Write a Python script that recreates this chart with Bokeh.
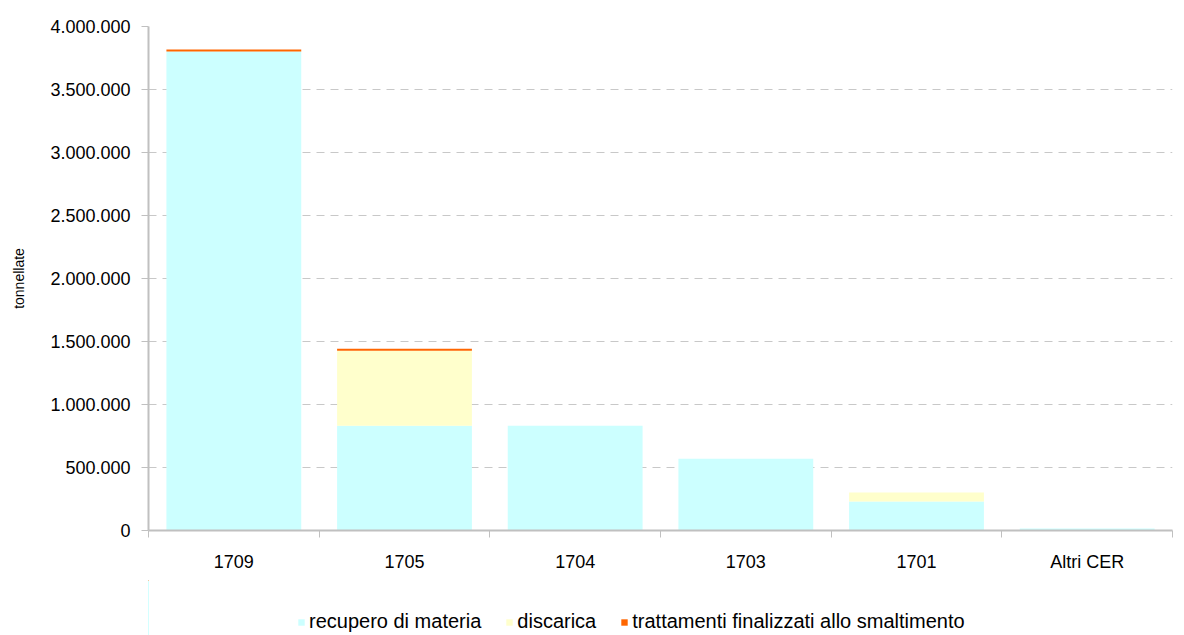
from bokeh.plotting import figure
from bokeh.layouts import column
from bokeh.models import ColumnDataSource, FixedTicker, Legend, LegendItem, CustomJSTickFormatter, Range1d
from bokeh.embed import file_html
from bokeh.resources import INLINE

categories = ["1709", "1705", "1704", "1703", "1701", "Altri CER"]
recupero = [3802000, 832000, 832000, 570000, 230000, 16000]
discarica = [0, 594000, 0, 0, 71000, 0]
trattamenti = [16000, 16000, 0, 0, 0, 0]
series = ["recupero", "discarica", "trattamenti"]
labels = ["recupero di materia", "discarica", "trattamenti finalizzati allo smaltimento"]
colors = ["#CCFFFF", "#FFFFCC", "#FF6600"]
y_ticks = [0, 500000, 1000000, 1500000, 2000000, 2500000, 3000000, 3500000, 4000000]

xs = [i + 0.5 for i in range(len(categories))]
src = ColumnDataSource(dict(x=xs, recupero=recupero, discarica=discarica, trattamenti=trattamenti))

p = figure(frame_width=1024, frame_height=504, output_backend="svg", toolbar_location=None,
           x_range=Range1d(0, len(categories)), y_range=Range1d(0, 4000000),
           min_border_left=148, min_border_right=4, min_border_top=26, min_border_bottom=50)
p.outline_line_color = None
p.background_fill_color = "white"

renderers = p.vbar_stack(series, x="x", width=0.79, source=src, color=colors, line_color=None)

FONT = "Liberation Sans"

p.xaxis.ticker = FixedTicker(ticks=xs, minor_ticks=list(range(len(categories) + 1)))
p.xaxis.major_label_overrides = {x: c for x, c in zip(xs, categories)}
p.xaxis.major_tick_line_color = None
p.xaxis.minor_tick_in = 0
p.xaxis.minor_tick_out = 7
p.xaxis.minor_tick_line_color = "#C0C0C0"
p.xaxis.axis_line_color = "#C0C0C0"
p.xaxis.axis_line_width = 2
p.xaxis.major_label_text_font = FONT
p.xaxis.major_label_text_font_size = "18px"
p.xaxis.major_label_text_color = "#000000"
p.xaxis.major_label_standoff = 14

p.yaxis.ticker = FixedTicker(ticks=y_ticks)
p.yaxis.formatter = CustomJSTickFormatter(code="return tick.toString().replace(/\\B(?=(\\d{3})+(?!\\d))/g, '.');")
p.yaxis.minor_tick_line_color = None
p.yaxis.major_tick_in = 0
p.yaxis.major_tick_out = 7
p.yaxis.major_tick_line_color = "#C0C0C0"
p.yaxis.axis_line_color = "#C0C0C0"
p.yaxis.axis_line_width = 2
p.yaxis.major_label_text_font = FONT
p.yaxis.major_label_text_font_size = "18px"
p.yaxis.major_label_text_color = "#000000"
p.yaxis.major_label_standoff = 11
p.yaxis.axis_label = "tonnellate"
p.yaxis.axis_label_text_font = FONT
p.yaxis.axis_label_text_font_size = "14px"
p.yaxis.axis_label_text_font_style = "normal"
p.yaxis.axis_label_text_color = "#000000"
p.yaxis.axis_label_standoff = 20

p.xgrid.grid_line_color = None
p.ygrid.grid_line_color = "#C8C8C8"
p.ygrid.grid_line_dash = "8 6"

# legend strip below the chart (its bars lie far left of its visible range)
lf = figure(width=1176, height=55, output_backend="svg", toolbar_location=None,
            x_range=Range1d(20, 21), y_range=Range1d(0, 1),
            x_axis_type=None, y_axis_type=None,
            min_border_left=0, min_border_right=0, min_border_top=0, min_border_bottom=0)
lf.outline_line_color = None
lf.grid.visible = False
swatches = lf.vbar_stack(series, x="x", width=0.79, source=src, color=colors, line_color=None)

items = [LegendItem(label=l, renderers=[r]) for l, r in zip(labels, swatches)]
legend = Legend(items=items, orientation="horizontal", location=(149, 2),
                glyph_width=8, glyph_height=8, label_standoff=4, spacing=24,
                label_text_font=FONT, label_text_font_size="20px", label_text_color="#000000",
                label_height=20,
                border_line_color=None, background_fill_alpha=0, padding=0, margin=0)
lf.add_layout(legend, "center")

layout = column(p, lf, spacing=0)
open("out.html", "w").write(file_html(layout, INLINE))
